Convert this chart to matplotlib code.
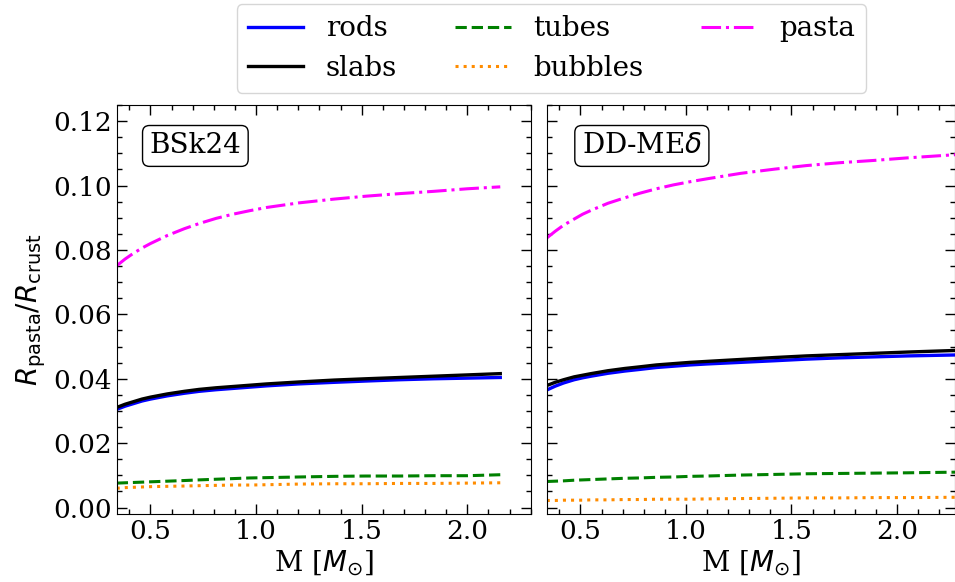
import numpy as np
import matplotlib
matplotlib.use("Agg")
import matplotlib.pyplot as plt
from matplotlib.ticker import MultipleLocator

plt.rcParams['font.family'] = ['DejaVu Serif']
plt.rcParams['mathtext.fontset'] = 'dejavusans'

# ---- data: BSk24 (left) ----
mass_bsk = [0.34, 0.38, 0.42, 0.46, 0.5, 0.58, 0.66, 0.73, 0.81, 0.89, 0.97, 1.05, 1.2,
            1.37, 1.52, 1.68, 1.84, 2.0, 2.156]
pasta_bsk = [0.0751, 0.0772, 0.0790, 0.0806, 0.0820, 0.0845, 0.0866, 0.0882, 0.0898, 0.0911,
             0.0922, 0.0932, 0.0946, 0.0958, 0.0967, 0.0975, 0.0982, 0.0990, 0.0996]
slabs_bsk = [0.0311, 0.0321, 0.0329, 0.0337, 0.0343, 0.0353, 0.0361, 0.0367, 0.0372, 0.0376,
             0.0380, 0.0384, 0.0390, 0.0396, 0.0400, 0.0404, 0.0408, 0.0412, 0.0416]
rods_bsk = [0.0305, 0.0315, 0.0323, 0.0331, 0.0337, 0.0347, 0.0355, 0.0361, 0.0366, 0.0370,
            0.0374, 0.0378, 0.0384, 0.0389, 0.0393, 0.0397, 0.0400, 0.0402, 0.0404]
tubes_bsk = [0.0076, 0.0077, 0.0078, 0.0079, 0.0080, 0.0082, 0.0084, 0.0086, 0.0088, 0.0090,
             0.0092, 0.0093, 0.0095, 0.0097, 0.0098, 0.0098, 0.0099, 0.0099, 0.0102]
bubbles_bsk = [0.0060, 0.0062, 0.0063, 0.0064, 0.0065, 0.0066, 0.0067, 0.0068, 0.0069, 0.0070,
               0.0070, 0.0071, 0.0073, 0.0074, 0.0074, 0.0075, 0.0075, 0.0076, 0.0077]

# ---- data: DD-MEdelta (right) ----
mass_dd = [0.34, 0.38, 0.42, 0.47, 0.51, 0.55, 0.63, 0.71, 0.78, 0.86, 0.94, 1.02, 1.1,
           1.26, 1.42, 1.57, 1.73, 1.89, 2.05, 2.28]
pasta_dd = [0.0837, 0.0858, 0.0877, 0.0896, 0.0911, 0.0923, 0.0945, 0.0962, 0.0976, 0.0990,
            0.1002, 0.1012, 0.1021, 0.1038, 0.1051, 0.1062, 0.1071, 0.1078, 0.1086, 0.1096]
slabs_dd = [0.0379, 0.0389, 0.0397, 0.0406, 0.0411, 0.0416, 0.0425, 0.0432, 0.0437, 0.0443,
            0.0447, 0.0451, 0.0454, 0.0460, 0.0466, 0.0471, 0.0475, 0.0479, 0.0483, 0.0488]
rods_dd = [0.0365, 0.0377, 0.0387, 0.0397, 0.0403, 0.0408, 0.0417, 0.0424, 0.0429, 0.0435,
           0.0439, 0.0443, 0.0446, 0.0451, 0.0456, 0.0461, 0.0465, 0.0468, 0.0471, 0.0474]
tubes_dd = [0.0081, 0.0082, 0.0083, 0.0085, 0.0086, 0.0087, 0.0089, 0.0091, 0.0092, 0.0094,
            0.0095, 0.0097, 0.0098, 0.0101, 0.0103, 0.0105, 0.0106, 0.0107, 0.0108, 0.0110]
bubbles_dd = [0.0022, 0.0022, 0.0023, 0.0023, 0.0023, 0.0024, 0.0024, 0.0025, 0.0025, 0.0026,
              0.0026, 0.0026, 0.0027, 0.0028, 0.0029, 0.0030, 0.0030, 0.0031, 0.0031, 0.0032]

panel_labels = ["BSk24", r"DD-ME$\delta$"]

fig = plt.figure(figsize=(9.55, 5.82), dpi=100)
axL = fig.add_axes([0.1222, 0.1168, 0.4335, 0.7027])
axR = fig.add_axes([0.5725, 0.1168, 0.4275, 0.7027], sharey=axL)

def draw(ax, m, rods, slabs, tubes, bubbles, pasta):
    h1, = ax.plot(m, rods, color='blue', lw=2.4, ls='-', label='rods')
    h2, = ax.plot(m, slabs, color='black', lw=2.4, ls='-', label='slabs')
    h3, = ax.plot(m, tubes, color='green', lw=2.2, ls='--', label='tubes')
    h4, = ax.plot(m, bubbles, color='darkorange', lw=2.2, ls=':', label='bubbles')
    h5, = ax.plot(m, pasta, color='magenta', lw=2.2, ls='-.', label='pasta')
    return [h1, h2, h3, h4, h5]

handles = draw(axL, mass_bsk, rods_bsk, slabs_bsk, tubes_bsk, bubbles_bsk, pasta_bsk)
draw(axR, mass_dd, rods_dd, slabs_dd, tubes_dd, bubbles_dd, pasta_dd)

axL.set_xlim(0.34, 2.30)
axR.set_xlim(0.34, 2.275)
axL.set_ylim(-0.002, 0.125)

for ax, lab, xpos in zip([axL, axR], panel_labels, [0.19, 0.233]):
    ax.xaxis.set_major_locator(MultipleLocator(0.5))
    ax.xaxis.set_minor_locator(MultipleLocator(0.1))
    ax.yaxis.set_major_locator(MultipleLocator(0.02))
    ax.yaxis.set_minor_locator(MultipleLocator(0.005))
    ax.tick_params(which='both', direction='in', top=True, right=True, labelsize=19)
    ax.tick_params(which='major', length=7, width=1)
    ax.tick_params(which='minor', length=3.5, width=1)
    ax.set_xlabel(r"M [$M_{\odot}$]", fontsize=20, labelpad=3)
    ax.text(xpos, 0.90, lab, transform=ax.transAxes, fontsize=20,
            ha='center', va='center',
            bbox=dict(boxstyle='round,pad=0.25', facecolor='white', edgecolor='black'))

axR.tick_params(labelleft=False)
axL.set_ylabel(r"$R_{\rm pasta}/R_{\rm crust}$", fontsize=20, labelpad=4)

fig.legend(handles=handles, loc='upper center', bbox_to_anchor=(0.5775, 1.0),
           ncol=3, fontsize=20, frameon=True, columnspacing=2.1,
           handlelength=2.0, borderaxespad=0.15, labelspacing=0.45)

fig.savefig("out.png", dpi=100)
